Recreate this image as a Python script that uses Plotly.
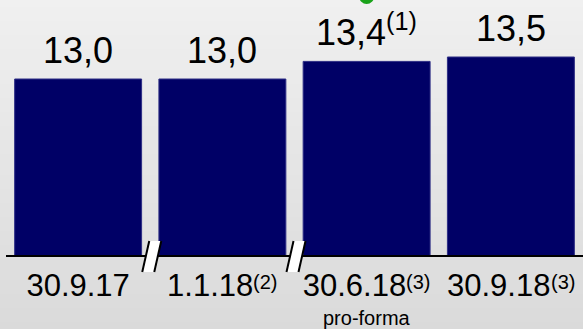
import plotly.graph_objects as go

# ---- data ----
categories = ["30.9.17", "1.1.18", "30.6.18", "30.9.18"]
tick_sups = ["", "(2)", "(3)", "(3)"]
values = [13.0, 13.0, 13.4, 13.5]
value_sups = ["", "", "(1)", ""]
sub_note = "pro-forma"

W, H = 583, 329
ML, MR, MT, MB = 6, 0, 0, 74
plot_h = H - MT - MB
y0 = 9.0
px_per_unit = 44.0
y_top = y0 + plot_h / px_per_unit

xs = list(range(len(categories)))
x_range = [-0.5, len(categories) - 0.5]
FONT = "Arial, Liberation Sans, sans-serif"
TICK_SIZE = 31
SUP_SIZE = 20

# Arial advance widths (em) for the characters used in the tick labels
ADV = {c: 0.556 for c in "0123456789"}
ADV["."] = 0.278
ADV["("] = 0.333
ADV[")"] = 0.333


def text_width(s, size):
    return sum(ADV.get(ch, 0.556) for ch in s) * size


def to_paper_x(v):
    return (v - x_range[0]) / (x_range[1] - x_range[0])


fig = go.Figure()
fig.add_trace(go.Bar(
    x=xs, y=values, width=0.88,
    marker=dict(color="#000066", line=dict(color="#2e2e85", width=1)),
    hoverinfo="skip",
))

# value labels
for x, v, s in zip(xs, values, value_sups):
    txt = f"{v:.1f}".replace(".", ",") + (f"<sup>{s}</sup>" if s else "")
    fig.add_annotation(x=x, y=v, xref="x", yref="y", text=txt, showarrow=False,
                       yanchor="bottom", yshift=6,
                       font=dict(family=FONT, size=36, color="#000000"))


# tick labels: main text + blank space reserved for the footnote marker
def spacer(s):
    w = text_width(s, SUP_SIZE)
    n = 4
    size = w / (0.278 * n)
    return f'<span style="font-size:{size:.1f}px">' + "&nbsp;" * n + "</span>"


ticktext = [c + (spacer(s) if s else "") for c, s in zip(categories, tick_sups)]

# footnote markers, slightly raised
for x, c, s in zip(xs, categories, tick_sups):
    if not s:
        continue
    fig.add_annotation(x=x, xref="x", y=-27 / plot_h, yref="paper", yanchor="middle",
                       xanchor="center", xshift=text_width(c, TICK_SIZE) / 2,
                       text=s, showarrow=False,
                       font=dict(family=FONT, size=SUP_SIZE, color="#000000"))

# pro-forma note
fig.add_annotation(x=2, xref="x", y=-63 / plot_h, yref="paper", yanchor="middle",
                   text=sub_note, showarrow=False,
                   font=dict(family=FONT, size=20, color="#000000"))

shapes = []
# background gradient
N = 47
step = H / N
for i in range(N):
    ytop_px = i * step
    ybot_px = (i + 1) * step
    c = int(round(240 - 0.0667 * (ytop_px + step / 2)))
    col = f"rgb({c},{c},{c})"
    shapes.append(dict(type="rect", xref="paper", yref="paper",
                       x0=-0.05, x1=1.05,
                       y0=1 - (ybot_px + 0.5) / plot_h, y1=1 - ytop_px / plot_h,
                       fillcolor=col, line=dict(width=0), layer="below"))

# axis break marks
for bx in [0.5, 1.5]:
    px = to_paper_x(bx)
    common = dict(xref="paper", yref="paper", xsizemode="pixel", ysizemode="pixel",
                  xanchor=px, yanchor=0, layer="above")
    shapes.append(dict(type="path", path="M -1,14 L 11,14 L 4,-17 L -8,-17 Z",
                       fillcolor="white", line=dict(width=0), **common))
    shapes.append(dict(type="path", path="M -1,14 L -8,-17",
                       line=dict(color="black", width=2), **common))
    shapes.append(dict(type="path", path="M 11,14 L 4,-17",
                       line=dict(color="black", width=2), **common))

# green dot at top
shapes.append(dict(type="circle", xref="paper", yref="paper", xsizemode="pixel", ysizemode="pixel",
                   xanchor=to_paper_x(2), yanchor=1, x0=-7.5, x1=7.5, y0=-4, y1=11,
                   fillcolor="#1aa31a", line=dict(width=0), layer="above"))

fig.update_layout(
    width=W, height=H,
    margin=dict(l=ML, r=MR, t=MT, b=MB, pad=0),
    paper_bgcolor="#dcdcdc", plot_bgcolor="rgba(0,0,0,0)",
    showlegend=False, shapes=shapes,
    font=dict(family=FONT, color="#000000"),
    xaxis=dict(range=x_range, tickvals=xs, ticktext=ticktext,
               showline=True, linecolor="black", linewidth=2,
               showgrid=False, zeroline=False, ticks="",
               ticklabelstandoff=2,
               tickfont=dict(family=FONT, size=TICK_SIZE, color="#000000"),
               fixedrange=True),
    yaxis=dict(range=[y0, y_top], visible=False, fixedrange=True),
)

fig.write_html("out.html", config={"displayModeBar": False},
               post_script="document.body.style.margin='0';document.body.style.padding='0';")
